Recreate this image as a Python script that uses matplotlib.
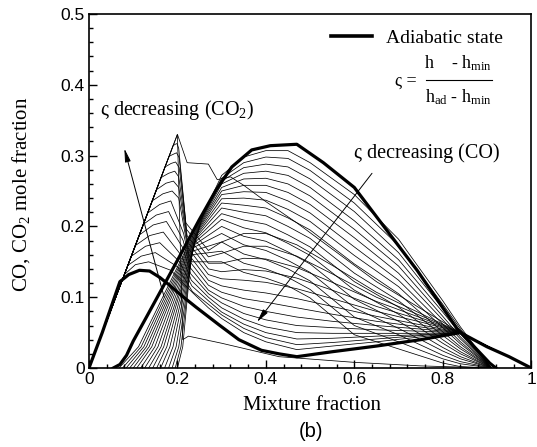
import matplotlib
matplotlib.use("Agg")
import matplotlib.pyplot as plt
from matplotlib.lines import Line2D
from matplotlib.ticker import MultipleLocator

plt.rcParams['mathtext.fontset'] = 'custom'
plt.rcParams['mathtext.rm'] = 'Liberation Serif'
plt.rcParams['mathtext.it'] = 'Liberation Serif:italic'

# ---------------- data ----------------
# adiabatic CO2
co2_ad_x = [0, 0.03, 0.07, 0.09, 0.114, 0.137, 0.16, 0.18, 0.21, 0.242, 0.294, 0.339,
            0.39, 0.43, 0.47, 0.55, 0.65, 0.75, 0.84, 0.9, 0.95, 1.0]
co2_ad_y = [0, 0.05, 0.122, 0.132, 0.138, 0.137, 0.128, 0.118, 0.102, 0.086, 0.061, 0.04,
            0.025, 0.02, 0.016, 0.023, 0.031, 0.04, 0.05, 0.03, 0.016, 0]
# adiabatic CO
co_ad_x = [0.055, 0.07, 0.085, 0.1, 0.13, 0.165, 0.2, 0.249, 0.287, 0.323, 0.368, 0.41,
           0.47, 0.53, 0.6, 0.668, 0.742, 0.832, 0.906, 0.92]
co_ad_y = [0, 0.005, 0.018, 0.038, 0.072, 0.112, 0.152, 0.209, 0.251, 0.284, 0.308, 0.314,
           0.316, 0.29, 0.255, 0.199, 0.138, 0.056, 0.007, 0]

# non-adiabatic CO2 curves: lean side up to the peak and down the steep band,
# then values on a common rich-side grid
co2_lean_x = [
    [0, 0.080, 0.105, 0.135, 0.185, 0.2350],
    [0, 0.088, 0.118, 0.150, 0.200, 0.2338],
    [0, 0.096, 0.128, 0.160, 0.205, 0.2326],
    [0, 0.105, 0.137, 0.168, 0.210, 0.2314],
    [0, 0.114, 0.145, 0.175, 0.212, 0.2300],
    [0, 0.123, 0.152, 0.180, 0.213, 0.2286],
    [0, 0.133, 0.160, 0.185, 0.214, 0.2272],
    [0, 0.143, 0.167, 0.188, 0.203, 0.2259],
    [0, 0.153, 0.174, 0.191, 0.203, 0.2245],
    [0, 0.163, 0.180, 0.194, 0.203, 0.2231],
    [0, 0.172, 0.186, 0.196, 0.204, 0.2218],
    [0, 0.181, 0.191, 0.198, 0.204, 0.2204],
    [0, 0.190, 0.195, 0.199, 0.203, 0.2190],
]
co2_lean_y = [
    [0, 0.132, 0.146, 0.150, 0.138, 0.106],
    [0, 0.145, 0.158, 0.163, 0.143, 0.108],
    [0, 0.158, 0.172, 0.177, 0.150, 0.116],
    [0, 0.173, 0.187, 0.192, 0.158, 0.124],
    [0, 0.188, 0.202, 0.207, 0.170, 0.133],
    [0, 0.203, 0.216, 0.221, 0.180, 0.142],
    [0, 0.219, 0.231, 0.236, 0.190, 0.151],
    [0, 0.236, 0.246, 0.250, 0.240, 0.160],
    [0, 0.252, 0.261, 0.264, 0.255, 0.169],
    [0, 0.269, 0.275, 0.278, 0.270, 0.178],
    [0, 0.284, 0.289, 0.291, 0.283, 0.187],
    [0, 0.299, 0.302, 0.304, 0.297, 0.196],
    [0, 0.314, 0.316, 0.317, 0.310, 0.205],
]
co2_rich_x = [0.27, 0.3, 0.35, 0.4, 0.47, 0.55, 0.65, 0.75, 0.84, 0.9, 0.95, 1.0]
co2_rich_y = [
    [0.085, 0.070, 0.050, 0.037, 0.026, 0.031, 0.037, 0.044, 0.05, 0.031, 0.016, 0],
    [0.090, 0.075, 0.056, 0.043, 0.033, 0.036, 0.041, 0.046, 0.05, 0.031, 0.016, 0],
    [0.095, 0.079, 0.062, 0.050, 0.041, 0.042, 0.045, 0.047, 0.05, 0.031, 0.016, 0],
    [0.100, 0.085, 0.069, 0.058, 0.050, 0.049, 0.049, 0.049, 0.05, 0.031, 0.016, 0],
    [0.105, 0.092, 0.077, 0.068, 0.060, 0.057, 0.054, 0.052, 0.05, 0.031, 0.016, 0],
    [0.110, 0.099, 0.087, 0.080, 0.072, 0.066, 0.060, 0.055, 0.05, 0.031, 0.016, 0],
    [0.117, 0.107, 0.098, 0.093, 0.085, 0.076, 0.066, 0.058, 0.05, 0.031, 0.016, 0],
    [0.124, 0.116, 0.110, 0.106, 0.098, 0.087, 0.073, 0.061, 0.05, 0.031, 0.016, 0],
    [0.132, 0.126, 0.124, 0.121, 0.112, 0.098, 0.080, 0.065, 0.05, 0.031, 0.016, 0],
    [0.140, 0.136, 0.139, 0.137, 0.127, 0.110, 0.087, 0.068, 0.05, 0.031, 0.016, 0],
    [0.148, 0.148, 0.155, 0.154, 0.142, 0.121, 0.094, 0.071, 0.05, 0.031, 0.016, 0],
    [0.157, 0.162, 0.172, 0.172, 0.158, 0.133, 0.100, 0.074, 0.05, 0.031, 0.016, 0],
    [0.166, 0.178, 0.190, 0.190, 0.174, 0.145, 0.107, 0.077, 0.05, 0.031, 0.016, 0],
]
# two extreme CO2 curves
co2_top_x = [0, 0.2, 0.222, 0.27, 0.29, 0.32, 0.35, 0.4, 0.47, 0.55, 0.65, 0.75, 0.84, 0.9, 0.95, 1.0]
co2_top_y = [0, 0.33, 0.29, 0.288, 0.266, 0.27, 0.258, 0.235, 0.205, 0.168, 0.122, 0.084, 0.05, 0.031, 0.016, 0]
co2_min_x = [0, 0.2, 0.212, 0.225, 0.3, 0.43, 0.6, 0.75, 0.91]
co2_min_y = [0, 0.33, 0.04, 0.045, 0.035, 0.016, 0.008, 0.003, 0]

# non-adiabatic CO curves: start on the axis, foot, join point of the bundle,
# then values on a common grid
co_x0 = [0.068, 0.076, 0.084, 0.092, 0.100, 0.108, 0.117, 0.126, 0.135, 0.144,
         0.153, 0.162, 0.171, 0.180, 0.188, 0.195, 0.200]
co_xf = [0.112, 0.118, 0.124, 0.130, 0.136, 0.142, 0.149, 0.156, 0.163, 0.169,
         0.176, 0.183, 0.190, 0.197, 0.203, 0.208, 0.212]
co_yf = [0.030, 0.030, 0.030, 0.030, 0.030, 0.030, 0.030, 0.030, 0.030, 0.030,
         0.030, 0.030, 0.030, 0.030, 0.030, 0.030, 0.030]
co_xb = [0.262, 0.260, 0.258, 0.256, 0.254, 0.252, 0.250, 0.248, 0.246, 0.244,
         0.242, 0.240, 0.238, 0.236, 0.234, 0.232, 0.230]
co_yb = [0.222, 0.218, 0.214, 0.210, 0.206, 0.202, 0.198, 0.194, 0.190, 0.186,
         0.182, 0.178, 0.174, 0.170, 0.165, 0.160, 0.150]
co_rich_x = [0.3, 0.35, 0.4, 0.45, 0.5, 0.6, 0.7, 0.8, 0.84, 0.91]
co_rich_y = [
    [0.272, 0.298, 0.307, 0.307, 0.290, 0.245, 0.182, 0.095, 0.058, 0],
    [0.268, 0.290, 0.298, 0.296, 0.279, 0.233, 0.173, 0.090, 0.055, 0],
    [0.264, 0.283, 0.288, 0.284, 0.267, 0.221, 0.163, 0.084, 0.051, 0],
    [0.260, 0.275, 0.278, 0.272, 0.255, 0.208, 0.153, 0.079, 0.048, 0],
    [0.255, 0.267, 0.268, 0.260, 0.243, 0.196, 0.144, 0.073, 0.044, 0],
    [0.250, 0.258, 0.258, 0.248, 0.231, 0.184, 0.134, 0.068, 0.041, 0],
    [0.245, 0.249, 0.248, 0.236, 0.219, 0.171, 0.124, 0.062, 0.037, 0],
    [0.239, 0.240, 0.237, 0.224, 0.207, 0.159, 0.115, 0.057, 0.034, 0],
    [0.233, 0.230, 0.226, 0.212, 0.195, 0.147, 0.105, 0.051, 0.030, 0],
    [0.226, 0.220, 0.215, 0.200, 0.183, 0.134, 0.095, 0.046, 0.027, 0],
    [0.218, 0.209, 0.203, 0.188, 0.171, 0.122, 0.086, 0.040, 0.023, 0],
    [0.210, 0.198, 0.191, 0.176, 0.159, 0.110, 0.076, 0.035, 0.020, 0],
    [0.200, 0.186, 0.179, 0.164, 0.147, 0.097, 0.066, 0.029, 0.016, 0],
    [0.190, 0.174, 0.166, 0.152, 0.135, 0.085, 0.056, 0.024, 0.013, 0],
    [0.178, 0.161, 0.153, 0.140, 0.123, 0.072, 0.047, 0.018, 0.009, 0],
    [0.165, 0.148, 0.140, 0.128, 0.111, 0.060, 0.037, 0.013, 0.006, 0],
    [0.150, 0.135, 0.127, 0.116, 0.099, 0.047, 0.027, 0.007, 0.002, 0],
]

x_ticks = [0, 0.2, 0.4, 0.6, 0.8, 1]
x_tick_labels = ['0', '0.2', '0.4', '0.6', '0.8', '1']
y_ticks = [0, 0.1, 0.2, 0.3, 0.4, 0.5]
y_tick_labels = ['0', '0.1', '0.2', '0.3', '0.4', '0.5']

# ---------------- figure ----------------
serif = ['Liberation Serif', 'DejaVu Serif']
sans = ['Liberation Sans', 'DejaVu Sans']

fig = plt.figure(figsize=(5.37, 4.47), dpi=100)
ax = fig.add_axes([0.1657, 0.1767, 0.8235, 0.792])

thin = dict(color='black', lw=0.55, solid_joinstyle='miter')
for lx, ly, ry in zip(co2_lean_x, co2_lean_y, co2_rich_y):
    ax.plot(lx + co2_rich_x, ly + ry, **thin)
ax.plot(co2_top_x, co2_top_y, **thin)
ax.plot(co2_min_x, co2_min_y, **thin)
for x0, xf, yf, xb, yb, ry in zip(co_x0, co_xf, co_yf, co_xb, co_yb, co_rich_y):
    ax.plot([x0, xf, xb] + co_rich_x, [0, yf, yb] + ry, **thin)

ax.plot(co2_ad_x, co2_ad_y, color='black', lw=2.3)
ax.plot(co_ad_x, co_ad_y, color='black', lw=2.3)

ax.set_xlim(0, 1)
ax.set_ylim(0, 0.5)
ax.set_xticks(x_ticks)
ax.set_xticklabels(x_tick_labels)
ax.set_yticks(y_ticks)
ax.set_yticklabels(y_tick_labels)
ax.xaxis.set_minor_locator(MultipleLocator(0.04))
ax.yaxis.set_minor_locator(MultipleLocator(0.02))
ax.tick_params(which='both', direction='in', top=False, right=False, width=1.0)
ax.tick_params(which='major', length=6, labelsize=12.5, pad=3)
ax.tick_params(which='minor', length=3)
for lab in ax.get_xticklabels() + ax.get_yticklabels():
    lab.set_family(sans)
for sp in ax.spines.values():
    sp.set_linewidth(1.2)

ax.set_xlabel('Mixture fraction', family=serif, fontsize=15)
ax.xaxis.set_label_coords(0.505, -0.078)
ax.set_ylabel(r'CO, CO$_2$ mole fraction', family=serif, fontsize=15)
ax.yaxis.set_label_coords(-0.128, 0.49)
fig.text(0.579, 0.0336, '(b)', family=sans, fontsize=14.5, ha='center', va='center')

ax.legend([Line2D([], [], color='black', lw=2.6)], ['Adiabatic state'],
          loc='center left', bbox_to_anchor=(0.548, 0.932), frameon=False,
          prop={'family': serif, 'size': 14}, handlelength=2.1, handletextpad=0.7,
          borderaxespad=0, borderpad=0)

# formula  ς = (h - h_min)/(h_ad - h_min)
ax.text(0.716, 0.405, 'ς =', family=serif, fontsize=13, ha='center', va='center')
ax.text(0.835, 0.430, r'h    - h$_{\mathrm{min}}$', family=serif, fontsize=13,
        ha='center', va='center')
ax.text(0.835, 0.383, r'h$_{\mathrm{ad}}$ - h$_{\mathrm{min}}$', family=serif, fontsize=13,
        ha='center', va='center')
ax.plot([0.762, 0.912], [0.407, 0.407], color='black', lw=0.8)

ax.text(0.026, 0.364, r'ς decreasing (CO$_2$)', family=serif, fontsize=14.5,
        ha='left', va='center')
ax.text(0.6, 0.303, r'ς decreasing (CO)', family=serif, fontsize=14.5,
        ha='left', va='center')

arrow = dict(arrowstyle='-|>,head_length=0.8,head_width=0.17', color='black', lw=0.7,
             shrinkA=0, shrinkB=0)
ax.annotate('', xy=(0.08, 0.31), xytext=(0.17, 0.1), arrowprops=arrow)
ax.annotate('', xy=(0.38, 0.065), xytext=(0.64, 0.275), arrowprops=arrow)

fig.savefig('out.png', dpi=100)
